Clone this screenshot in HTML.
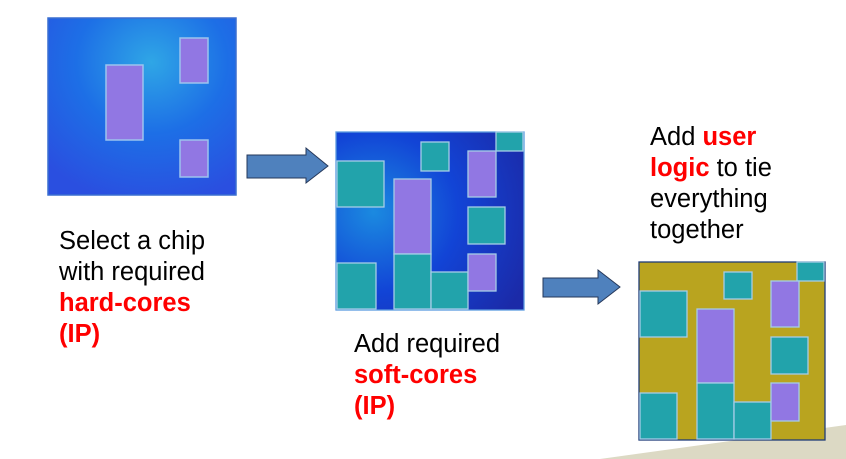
<!DOCTYPE html>
<html><head><style>
body{margin:0;width:846px;height:459px;background:#fff;position:relative;overflow:hidden;font-family:"Liberation Sans",Arial,sans-serif}
.t{position:absolute;font-size:25.5px;line-height:31px;color:#000;white-space:nowrap}
.r{color:#f00;font-weight:bold}
</style></head><body>
<svg width="846" height="459" style="position:absolute;left:0;top:0">
<defs>
<radialGradient id="g1" cx="0.55" cy="0.25" r="0.8">
<stop offset="0" stop-color="#2fa6e6"/><stop offset="0.5" stop-color="#1d6fe6"/><stop offset="1" stop-color="#2a4fe0"/></radialGradient>
<radialGradient id="g2" cx="0.2" cy="0.45" r="0.9">
<stop offset="0" stop-color="#1b8ae0"/><stop offset="0.5" stop-color="#1244d6"/><stop offset="1" stop-color="#1b2aa8"/></radialGradient>
</defs>
<polygon points="600,459 846,425 846,459" fill="#dcd9c4"/>
<g stroke="#9cc4ee" stroke-width="1.5">
<rect x="48" y="18" width="188" height="177" fill="url(#g1)" stroke="#3a6fd0"/>
<rect x="106" y="65" width="37" height="75" fill="#9177e3"/>
<rect x="180" y="38" width="28" height="45" fill="#9177e3"/>
<rect x="180" y="140" width="28" height="37" fill="#9177e3"/>
</g>
<g id="c2" stroke="#a6cde6" stroke-width="1.3">
<rect x="336" y="132" width="188" height="178" fill="url(#g2)" stroke="#5a9ae0"/>
<rect x="337" y="161" width="47" height="46" fill="#22a3ab"/>
<rect x="421" y="142" width="28" height="29" fill="#22a3ab"/>
<rect x="496" y="132" width="27" height="19" fill="#22a3ab"/>
<rect x="468" y="151" width="28" height="46" fill="#9177e3"/>
<rect x="394" y="179" width="37" height="75" fill="#9177e3"/>
<rect x="468" y="207" width="37" height="37" fill="#22a3ab"/>
<rect x="337" y="263" width="39" height="46" fill="#22a3ab"/>
<rect x="394" y="254" width="37" height="55" fill="#22a3ab"/>
<rect x="431" y="272" width="37" height="37" fill="#22a3ab"/>
<rect x="468" y="254" width="28" height="37" fill="#9177e3"/>
</g>
<g transform="translate(303,130)" stroke="#a6cde6" stroke-width="1.3">
<rect x="336" y="132" width="186" height="178" fill="#b9a41f" stroke="#1f3c78"/>
<rect x="337" y="161" width="47" height="46" fill="#22a3ab"/>
<rect x="421" y="142" width="28" height="27" fill="#22a3ab"/>
<rect x="494" y="132" width="27" height="19" fill="#22a3ab"/>
<rect x="468" y="151" width="28" height="46" fill="#9177e3"/>
<rect x="394" y="179" width="37" height="74" fill="#9177e3"/>
<rect x="468" y="207" width="37" height="37" fill="#22a3ab"/>
<rect x="337" y="263" width="37" height="46" fill="#22a3ab"/>
<rect x="394" y="253" width="37" height="56" fill="#22a3ab"/>
<rect x="431" y="272" width="37" height="37" fill="#22a3ab"/>
<rect x="468" y="253" width="28" height="38" fill="#9177e3"/>
</g>
<polygon points="247,155 306,155 306,148 328,166 306,183 306,178 247,178" fill="#4f81bd" stroke="#26385a" stroke-width="1"/>
<polygon points="543,278 598,278 598,270 620,287 598,304 598,297 543,297" fill="#4f81bd" stroke="#26385a" stroke-width="1"/>
</svg>
<div class="t" style="left:59px;top:226px">Select a chip<br>with required<br><span class="r">hard-cores<br>(IP)</span></div>
<div class="t" style="left:354px;top:329px">Add required<br><span class="r">soft-cores<br>(IP)</span></div>
<div class="t" style="left:650px;top:122px">Add <span class="r">user<br>logic</span> to tie<br>everything<br>together</div>
</body></html>
